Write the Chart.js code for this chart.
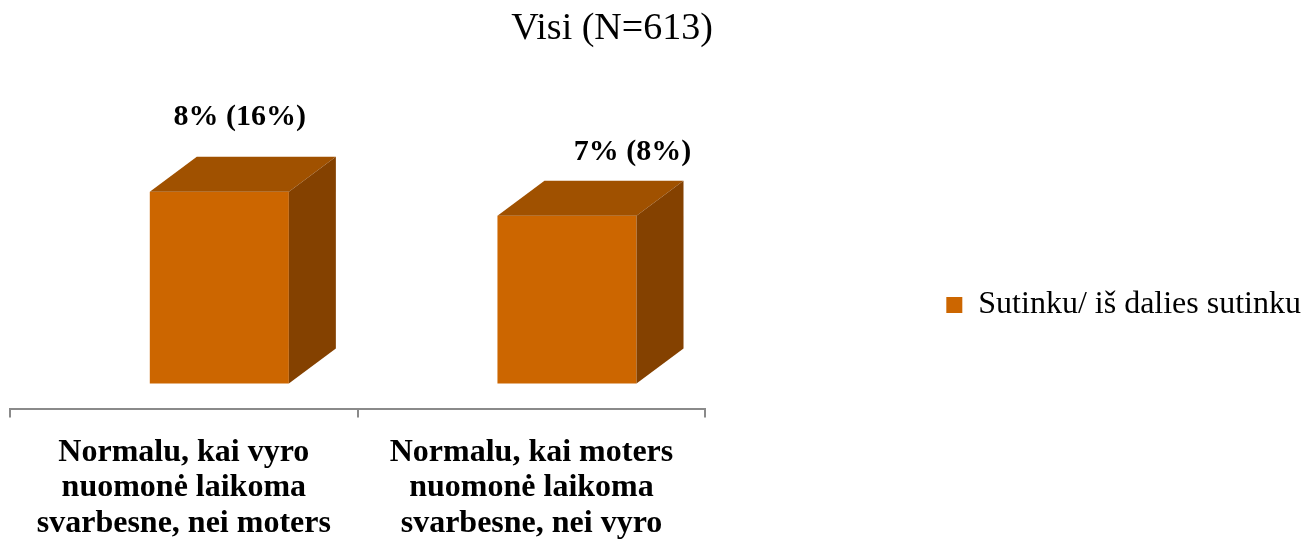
<!DOCTYPE html>
<html>
<head>
<meta charset="utf-8">
<title>Visi (N=613)</title>
<script src="https://cdn.jsdelivr.net/npm/chart.js@4.4.1/dist/chart.umd.min.js"></script>
<style>
  html, body { margin: 0; padding: 0; background: #ffffff; }
  #wrap { width: 1306px; height: 539px; }
</style>
</head>
<body>
<div id="wrap"><canvas id="chart" width="1306" height="539" style="width:1306px;height:539px"></canvas></div>
<script>
// Survey statements (multi-line category labels)
const categories = [
  ['Normalu, kai vyro', 'nuomonė laikoma', 'svarbesne, nei moters'],
  ['Normalu, kai moters', 'nuomonė laikoma', 'svarbesne, nei vyro']
];
const seriesName = 'Sutinku/ iš dalies sutinku';
// Share who agree, % (bar height)
const agreeShare = [8, 7];
// Comparison share shown in brackets, %
const bracketShare = [16, 8];
const chartTitle = 'Visi (N=613)';

// Styling
const FONT = 'Liberation Serif, Times New Roman, serif';
const FRONT = '#CC6600';
const TOP = '#A05100';
const SIDE = '#844100';
const DEPTH = { x: 47, y: -35 };   // extrusion of the 3D box
const SHIFT_X = 35.5;             // bars sit right of the category centre
const LABEL_OFFSETS = [ { dx: 20.5, dy: -67 }, { dx: 65.5, dy: -56 } ];

function poly(ctx, pts, color) {
  ctx.beginPath();
  ctx.moveTo(pts[0][0], pts[0][1]);
  for (let i = 1; i < pts.length; i++) ctx.lineTo(pts[i][0], pts[i][1]);
  ctx.closePath();
  ctx.fillStyle = color;
  ctx.fill();
}

const bar3d = {
  id: 'bar3d',
  beforeDatasetsDraw(chart) {
    chart.ctx.save();
    chart.ctx.translate(SHIFT_X, 0);
  },
  afterDatasetsDraw(chart) {
    const ctx = chart.ctx;
    const meta = chart.getDatasetMeta(0);
    meta.data.forEach((bar, i) => {
      const { x, y, base, width } = bar.getProps(['x', 'y', 'base', 'width'], true);
      const l = x - width / 2, r = x + width / 2;
      poly(ctx, [[l, y], [r, y], [r + DEPTH.x, y + DEPTH.y], [l + DEPTH.x, y + DEPTH.y]], TOP);
      poly(ctx, [[r, y], [r + DEPTH.x, y + DEPTH.y], [r + DEPTH.x, base + DEPTH.y], [r, base]], SIDE);

      const off = LABEL_OFFSETS[i];
      ctx.font = 'bold 30px ' + FONT;
      ctx.fillStyle = '#000000';
      ctx.textAlign = 'center';
      ctx.textBaseline = 'alphabetic';
      ctx.fillText(agreeShare[i] + '% (' + bracketShare[i] + '%)', x + off.dx, y + off.dy);
    });
    ctx.restore();
  },
  afterDraw(chart) {
    const ctx = chart.ctx;
    ctx.save();
    ctx.font = '38px ' + FONT;
    ctx.fillStyle = '#000000';
    ctx.textAlign = 'center';
    ctx.textBaseline = 'alphabetic';
    ctx.fillText(chartTitle, 612, 39);
    ctx.restore();
  }
};

new Chart(document.getElementById('chart'), {
  type: 'bar',
  data: {
    labels: categories,
    datasets: [{
      label: seriesName,
      data: agreeShare,
      backgroundColor: FRONT,
      borderWidth: 0,
      barPercentage: 0.4,
      categoryPercentage: 1,
      clip: false
    }]
  },
  options: {
    responsive: false,
    animation: false,
    events: [],
    layout: { padding: { left: 10, right: -5, top: 51, bottom: -20 } },
    plugins: {
      title: { display: false },
      tooltip: { enabled: false },
      legend: {
        position: 'right',
        align: 'center',
        labels: {
          boxWidth: 16,
          boxHeight: 16,
          padding: 241,
          color: '#000000',
          font: { family: FONT, size: 32 }
        }
      }
    },
    scales: {
      x: {
        grid: {
          display: true,
          drawOnChartArea: false,
          drawTicks: true,
          tickLength: 8,
          offset: true,
          color: '#8a8a8a',
          lineWidth: 2
        },
        border: { display: true, color: '#8a8a8a', width: 2 },
        ticks: {
          color: '#000000',
          padding: 18,
          maxRotation: 0,
          minRotation: 0,
          autoSkip: false,
          font: { family: FONT, size: 32, weight: 'bold', lineHeight: 1.1 }
        }
      },
      y: {
        display: false,
        min: -1.0833,
        max: 13.875
      }
    }
  },
  plugins: [bar3d]
});
</script>
</body>
</html>
